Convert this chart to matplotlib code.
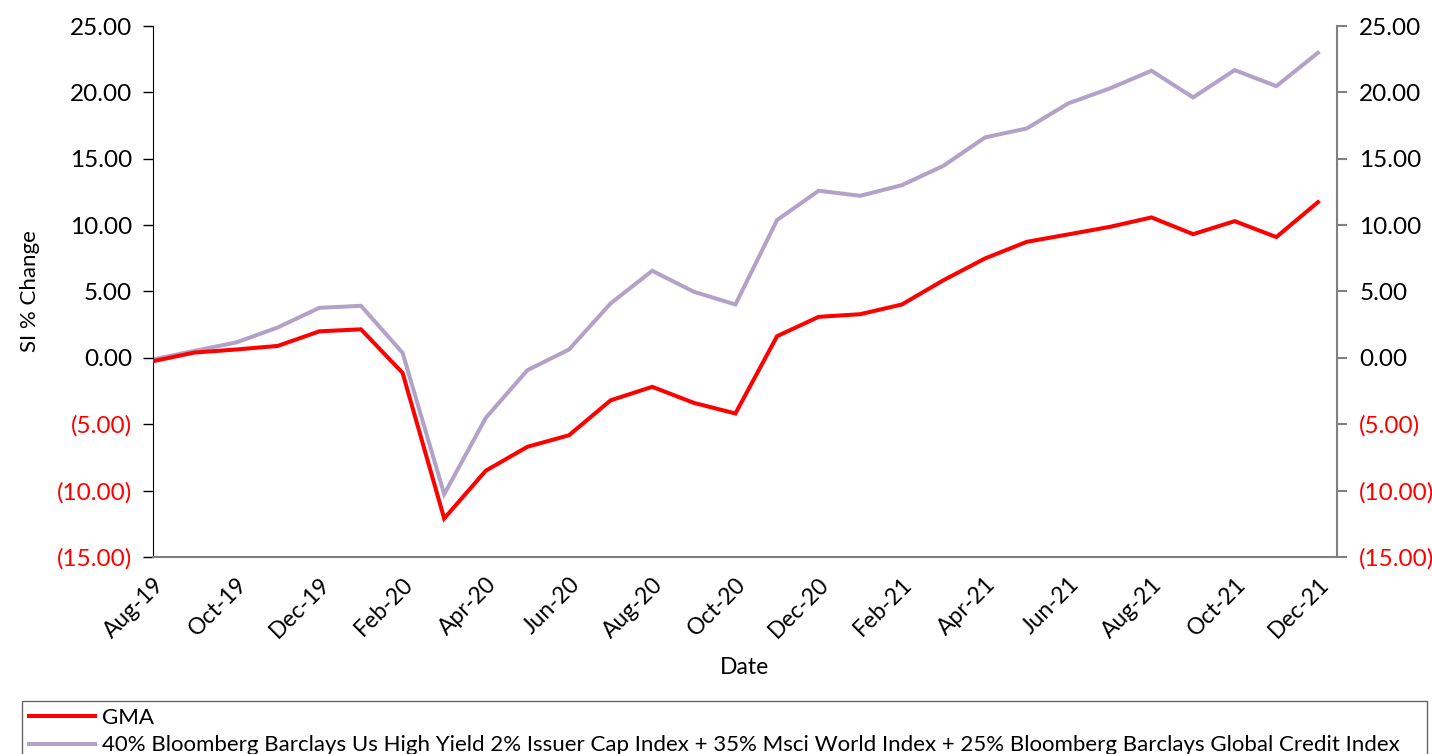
import matplotlib
matplotlib.use("Agg")
import matplotlib.pyplot as plt
from matplotlib.ticker import FixedLocator, FuncFormatter

plt.rcParams["font.family"] = ["Lato", "DejaVu Sans"]

MONTHS = [
    "Aug-19", "Sep-19", "Oct-19", "Nov-19", "Dec-19", "Jan-20", "Feb-20", "Mar-20",
    "Apr-20", "May-20", "Jun-20", "Jul-20", "Aug-20", "Sep-20", "Oct-20", "Nov-20",
    "Dec-20", "Jan-21", "Feb-21", "Mar-21", "Apr-21", "May-21", "Jun-21", "Jul-21",
    "Aug-21", "Sep-21", "Oct-21", "Nov-21", "Dec-21",
]

GMA = [
    -0.25, 0.40, 0.63, 0.90, 2.00, 2.15, -1.13, -12.10,
    -8.50, -6.70, -5.83, -3.20, -2.18, -3.39, -4.19, 1.63,
    3.09, 3.29, 4.02, 5.85, 7.49, 8.74, 9.30, 9.87,
    10.58, 9.32, 10.30, 9.10, 11.73,
]

BENCH = [
    -0.12, 0.53, 1.16, 2.29, 3.77, 3.92, 0.38, -10.27,
    -4.52, -0.93, 0.63, 4.10, 6.56, 4.98, 4.02, 10.38,
    12.59, 12.21, 13.01, 14.47, 16.61, 17.28, 19.17, 20.30,
    21.63, 19.62, 21.68, 20.47, 22.98,
]

BENCH_LABEL = ("40% Bloomberg Barclays Us High Yield 2% Issuer Cap Index + 35% Msci World Index"
               " + 25% Bloomberg Barclays Global Credit Index")

Y_TICKS = [-15, -10, -5, 0, 5, 10, 15, 20, 25]


def fmt(v, pos=None):
    if v < 0:
        return f"({abs(v):.2f})"
    return f"{v:.2f}"


def style_yaxis(axis_ticklabels):
    for lab, v in zip(axis_ticklabels, Y_TICKS):
        lab.set_color("#FF0000" if v < 0 else "black")


def main():
    fig = plt.figure(figsize=(14.32, 7.54), dpi=100)
    ax = fig.add_axes([0.1068, 0.2613, 0.8269, 0.7042])

    x = list(range(len(MONTHS)))
    ax.plot(x, GMA, color="#FF0000", lw=2.9, label="GMA", solid_joinstyle="miter", zorder=3)
    ax.plot(x, BENCH, color="#B3A2C7", lw=2.9, label=BENCH_LABEL, solid_joinstyle="miter", zorder=2)

    ax.set_xlim(0, 28.46)
    ax.set_ylim(-15, 25)
    ax.set_xticks(x[::2])
    ax.set_xticklabels(MONTHS[::2], rotation=45, ha="right", rotation_mode="anchor", fontsize=16.5)
    ax.tick_params(axis="x", length=0, pad=12)

    ax.yaxis.set_major_locator(FixedLocator(Y_TICKS))
    ax.yaxis.set_major_formatter(FuncFormatter(fmt))
    ax.tick_params(axis="y", direction="out", length=7, width=1, labelsize=17.5, pad=8, color="black")
    style_yaxis(ax.get_yticklabels())

    ax.spines["top"].set_visible(False)
    ax.spines["right"].set_visible(False)
    ax.spines["left"].set_color("black")
    ax.spines["bottom"].set_color("#808080")
    ax.spines["bottom"].set_linewidth(1.5)

    ax2 = ax.twinx()
    ax2.set_ylim(-15, 25)
    ax2.yaxis.set_major_locator(FixedLocator(Y_TICKS))
    ax2.yaxis.set_major_formatter(FuncFormatter(fmt))
    ax2.tick_params(axis="y", direction="out", length=7, width=1.5, labelsize=17.5, pad=9, color="#808080")
    style_yaxis(ax2.get_yticklabels())
    for s in ["top", "left", "bottom"]:
        ax2.spines[s].set_visible(False)
    ax2.spines["right"].set_color("#808080")
    ax2.spines["right"].set_linewidth(1.5)

    ax.set_ylabel("SI % Change", fontsize=16, labelpad=12)
    ax.set_xlabel("Date", fontsize=16.5, labelpad=11)

    leg = fig.legend(
        loc="upper left",
        bbox_to_anchor=(22 / 1432, 1 - 701 / 754, 1405 / 1432, 0.0),
        mode="expand",
        frameon=True,
        fancybox=False,
        fontsize=16.0,
        handlelength=3.0,
        handletextpad=0.3,
        borderpad=0.3,
        labelspacing=0.35,
        borderaxespad=0,
    )
    leg.get_frame().set_edgecolor("#404040")
    leg.get_frame().set_linewidth(1.0)

    fig.savefig("out.png", dpi=100)


if __name__ == "__main__":
    main()
